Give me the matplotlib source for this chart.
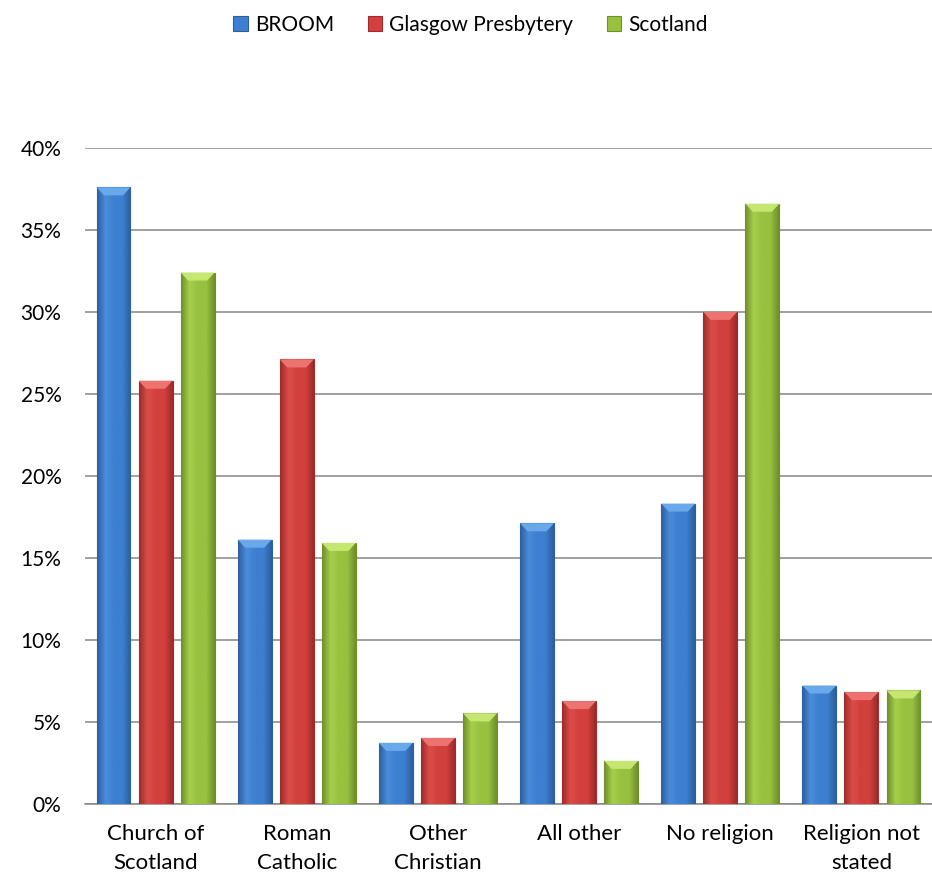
import matplotlib
matplotlib.use("Agg")
import matplotlib.pyplot as plt
import numpy as np
from matplotlib.colors import LinearSegmentedColormap
from matplotlib.patches import Polygon

categories = ["Church of\nScotland", "Roman\nCatholic", "Other\nChristian",
              "All other", "No religion", "Religion not\nstated"]
series = ["BROOM", "Glasgow Presbytery", "Scotland"]
broom = [37.6, 16.1, 3.7, 17.1, 18.3, 7.2]
glasgow = [25.8, 27.1, 4.0, 6.25, 30.0, 6.8]
scotland = [32.4, 15.9, 5.5, 2.6, 36.6, 6.9]
values = [broom, glasgow, scotland]

# (dark edge, mid, light, bevel) per series
shades = [("#2c5f9e", "#3d7fd0", "#4a8ddb", "#6aa8ec"),
          ("#9c2c29", "#d2403d", "#dc4d49", "#ec7370"),
          ("#6f8f2b", "#98c140", "#a6cf4a", "#c5e670")]

plt.rcParams['font.family'] = ['Lato', 'DejaVu Sans']

fig = plt.figure(figsize=(9.32, 8.77), dpi=100)
ax = fig.add_axes([0.0912, 0.0838, 0.9088, 0.7474])

x = np.arange(len(categories))
step = 0.298
width = 0.24
ax.set_xlim(-0.5, len(categories) - 0.5)
ax.set_ylim(0, 0.4)

# bevel depth in data units (~8 px)
bev_y = 0.4 * 8 / 655
bev_x = width * 0.22

for i, (vals, name, sh) in enumerate(zip(values, series, shades)):
    bars = ax.bar(x + (i - 1) * step, [v / 100 for v in vals], width,
                  color=sh[1], edgecolor=sh[0], linewidth=0.8, label=name, zorder=3)
    cmap = LinearSegmentedColormap.from_list("s%d" % i, [sh[0], sh[2], sh[1], sh[1], sh[0]])
    grad = np.linspace(0, 1, 64).reshape(1, -1)
    for b in bars:
        x0, w, h = b.get_x(), b.get_width(), b.get_height()
        im = ax.imshow(grad, cmap=cmap, aspect='auto', zorder=3.5,
                       extent=[x0, x0 + w, 0, h])
        im.set_clip_path(b)
        top = Polygon([[x0, h], [x0 + w, h], [x0 + w - bev_x, h - bev_y], [x0 + bev_x, h - bev_y]],
                      closed=True, facecolor=sh[3], edgecolor='none', zorder=3.6)
        ax.add_patch(top)

ax.set_yticks(np.arange(0, 0.41, 0.05))
ax.set_yticklabels(["%d%%" % round(t * 100) for t in np.arange(0, 0.41, 0.05)])
ax.set_xticks(x)
ax.set_xticklabels(categories, linespacing=1.55, fontsize=16)

ax.grid(axis='y', color='#868686', linewidth=1.1, zorder=0)
ax.set_axisbelow(True)
for s in ['top', 'right', 'left']:
    ax.spines[s].set_visible(False)
ax.spines['bottom'].set_color('#868686')
ax.spines['bottom'].set_linewidth(1.1)
ax.tick_params(axis='both', length=0, labelcolor='#000000')
ax.tick_params(axis='y', pad=17, labelsize=15)
ax.tick_params(axis='x', pad=15)

leg = fig.legend(loc='center', bbox_to_anchor=(0.505, 0.972), ncol=3, frameon=False,
                 fontsize=15, handlelength=0.7, handleheight=0.7,
                 handletextpad=0.35, columnspacing=1.6)

fig.savefig("out.png", dpi=100)
